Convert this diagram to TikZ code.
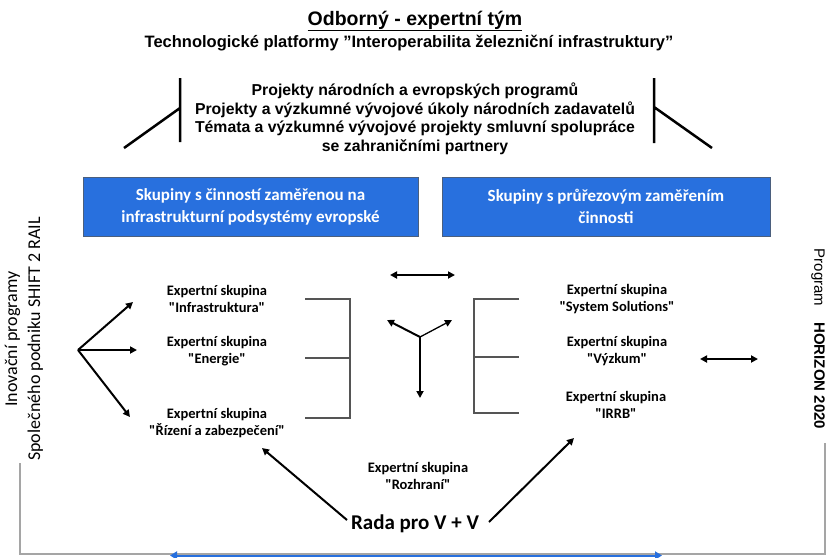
\documentclass[tikz,border=0pt]{standalone}
\usepackage{fontspec}
\setmainfont{Liberation Sans}
\newfontfamily\calib{Carlito}
\usetikzlibrary{arrows.meta}
\definecolor{boxblue}{RGB}{40,112,222}
\definecolor{boxedge}{RGB}{75,95,125}
\definecolor{framegray}{RGB}{165,165,165}
\definecolor{linegray}{RGB}{85,85,85}
\tikzset{
  grp/.style={draw=boxedge, line width=1pt, fill=boxblue, text=white, align=center, inner sep=0pt,
    minimum height=59pt, font=\calib\bfseries\fontsize{17}{22}\selectfont},
  expert/.style={align=center, font=\calib\bfseries\fontsize{14.5}{16.5}\selectfont},
  arr/.style={line width=2pt, -{Triangle[length=7pt,width=7pt]}},
  twoarr/.style={line width=2pt, {Triangle[length=7pt,width=7pt]}-{Triangle[length=7pt,width=7pt]}},
  brack/.style={linegray, line width=1.5pt},
}

\begin{document}
\begin{tikzpicture}[x=1pt,y=-1pt]
\useasboundingbox (0,0) rectangle (829,557);

% heading
\node (title) at (415,21) {\fontsize{19.5}{22}\selectfont\bfseries\underline{Odborný - expertní tým}};
\node (platf) at (409,43) {\fontsize{16.5}{18}\selectfont\bfseries Technologické platformy "Interoperabilita železniční infrastruktury"};
\node[align=center, font=\bfseries\fontsize{15.8}{18.5}\selectfont] (proj) at (415,119)
  {Projekty národních a evropských programů\\Projekty a výzkumné vývojové úkoly národních zadavatelů\\Témata a výzkumné vývojové projekty smluvní spolupráce\\se zahraničními partnery};

\coordinate (lt) at (180,78); \coordinate (lb) at (180,142); \coordinate (lm) at (180,108); \coordinate (ld) at (124,148);
\coordinate (rt) at (654,78); \coordinate (rb) at (654,143); \coordinate (rm) at (654,107); \coordinate (rd) at (712,148);
\draw[line width=2.5pt] (lt) -- (lb) (lm) -- (ld);
\draw[line width=2.5pt] (rt) -- (rb) (rm) -- (rd);

% blue groups
\node[grp, minimum width=335pt] (grpl) at (250.5,206.5) {Skupiny s činností zaměřenou na\\infrastrukturní podsystémy evropské};
\node[grp, minimum width=328pt] (grpr) at (606,206.5) {Skupiny s průřezovým zaměřením\\činnosti};

% side programmes
\node[rotate=90, align=center, font=\calib\fontsize{18}{23}\selectfont] (inov) at (24,339) {Inovační programy\\Společného podniku SHIFT 2 RAIL};
\node[rotate=-90, font=\fontsize{15}{16}\selectfont] (horiz) at (818,339) {Program\hspace{16pt}\textbf{HORIZON 2020}};

% expert groups
\node[expert] (infra) at (217,299) {Expertní skupina\\"Infrastruktura"};
\node[expert] (energ) at (217,351) {Expertní skupina\\"Energie"};
\node[expert] (rizen) at (217,423) {Expertní skupina\\"Řízení a zabezpečení"};
\node[expert] (syst) at (617,299) {Expertní skupina\\"System Solutions"};
\node[expert] (vyzk) at (617,351) {Expertní skupina\\"Výzkum"};
\node[expert] (irrb) at (616,405) {Expertní skupina\\"IRRB"};
\node[expert] (rozhr) at (418,476) {Expertní skupina\\"Rozhraní"};
\node[font=\calib\bfseries\fontsize{21}{23}\selectfont] (rada) at (415,524) {Rada pro V + V};

% brackets
\draw[brack] (305,299) -- (350,299) -- (350,418) -- (305,418) (305,358) -- (350,358);
\draw[brack] (519,299) -- (474,299) -- (474,413) -- (519,413) (474,357) -- (519,357);

% fan from the side programme
\coordinate (fan) at (78,350);
\coordinate (f1) at (133,302); \coordinate (f2) at (137,350); \coordinate (f3) at (130,417);
\draw[arr] (fan) -- (f1);
\draw[arr] (fan) -- (f2);
\draw[arr] (fan) -- (f3);

% centre
\coordinate (hl) at (390,275); \coordinate (hr) at (455,275);
\draw[twoarr] (hl) -- (hr);
\coordinate (yc) at (420,337);
\coordinate (y1) at (387,320); \coordinate (y2) at (452,320); \coordinate (y3) at (420,398);
\draw[arr] (yc) -- (y1);
\draw[arr, line width=1.3pt] (yc) -- (y2);
\draw[arr] (yc) -- (y3);
\coordinate (vl) at (700,359); \coordinate (vr) at (758,359);
\draw[twoarr] (vl) -- (vr);

% council
\coordinate (ra1) at (347,520); \coordinate (ta1) at (262,448);
\coordinate (ra2) at (489,522); \coordinate (ta2) at (574,438);
\draw[arr] (ra1) -- (ta1);
\draw[arr] (ra2) -- (ta2);

% frame at the bottom
\coordinate (fl) at (20,463); \coordinate (fr) at (825,443);
\coordinate (fbl) at (20,554); \coordinate (fbr) at (825,554);
\draw[framegray, line width=1.3pt] (fl) -- (fbl) -- (fbr) -- (fr);
\coordinate (bl) at (170,555.5); \coordinate (br) at (662,555.5);
\draw[boxblue, line width=2pt, {Triangle[length=7pt,width=8pt]}-{Triangle[length=7pt,width=8pt]}] (bl) -- (br);

\end{tikzpicture}
\end{document}
